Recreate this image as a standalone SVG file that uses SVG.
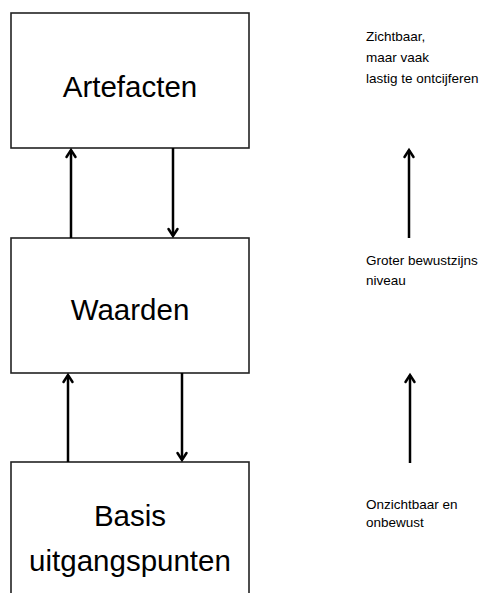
<svg xmlns="http://www.w3.org/2000/svg" width="479" height="593" viewBox="0 0 479 593">
  <defs>
    <marker id="ah" markerUnits="userSpaceOnUse" markerWidth="20" markerHeight="20" viewBox="-10 -10 20 20" refX="0" refY="0" orient="auto" overflow="visible">
      <path d="M-7,-4.5 L0,0 L-7,4.5" fill="none" stroke="#000" stroke-width="2.5" stroke-linecap="round" stroke-linejoin="miter"/>
    </marker>
  </defs>
  <style>
    .box { fill: #fff; stroke: #222; stroke-width: 1.6; }
    .big { font-family: "Liberation Sans", Arial, sans-serif; font-size: 29.5px; fill: #000; text-anchor: middle; }
    .small { font-family: "Liberation Sans", Arial, sans-serif; font-size: 13.5px; fill: #000; }
    .arr { stroke: #000; stroke-width: 2.5; fill: none; marker-end: url(#ah); }
  </style>
  <rect width="479" height="593" fill="#fff"/>

  <g id="artefacten">
    <rect class="box" x="11" y="13" width="238" height="135"/>
    <text class="big" x="130" y="97">Artefacten</text>
  </g>
  <g id="waarden">
    <rect class="box" x="11" y="238" width="238" height="135"/>
    <text class="big" x="130" y="320">Waarden</text>
  </g>
  <g id="basis">
    <rect class="box" x="11" y="462" width="238" height="160"/>
    <text class="big" x="130" y="526">Basis</text>
    <text class="big" x="130" y="571">uitgangspunten</text>
  </g>

  <g id="label-zichtbaar">
    <text class="small" x="366" y="41">Zichtbaar,</text>
    <text class="small" x="366" y="62">maar vaak</text>
    <text class="small" x="366" y="83">lastig te ontcijferen</text>
  </g>
  <g id="label-groter">
    <text class="small" x="366" y="265">Groter bewustzijns</text>
    <text class="small" x="366" y="285">niveau</text>
  </g>
  <g id="label-onzichtbaar">
    <text class="small" x="366" y="509">Onzichtbaar en</text>
    <text class="small" x="366" y="527">onbewust</text>
  </g>

  <g id="connectors">
    <line class="arr" x1="71" y1="238" x2="71" y2="150"/>
    <line class="arr" x1="173" y1="148" x2="173" y2="236"/>
    <line class="arr" x1="68" y1="462" x2="68" y2="375"/>
    <line class="arr" x1="182" y1="373" x2="182" y2="460"/>
    <line class="arr" x1="409" y1="238" x2="409" y2="150"/>
    <line class="arr" x1="410" y1="463" x2="410" y2="375"/>
  </g>
</svg>
